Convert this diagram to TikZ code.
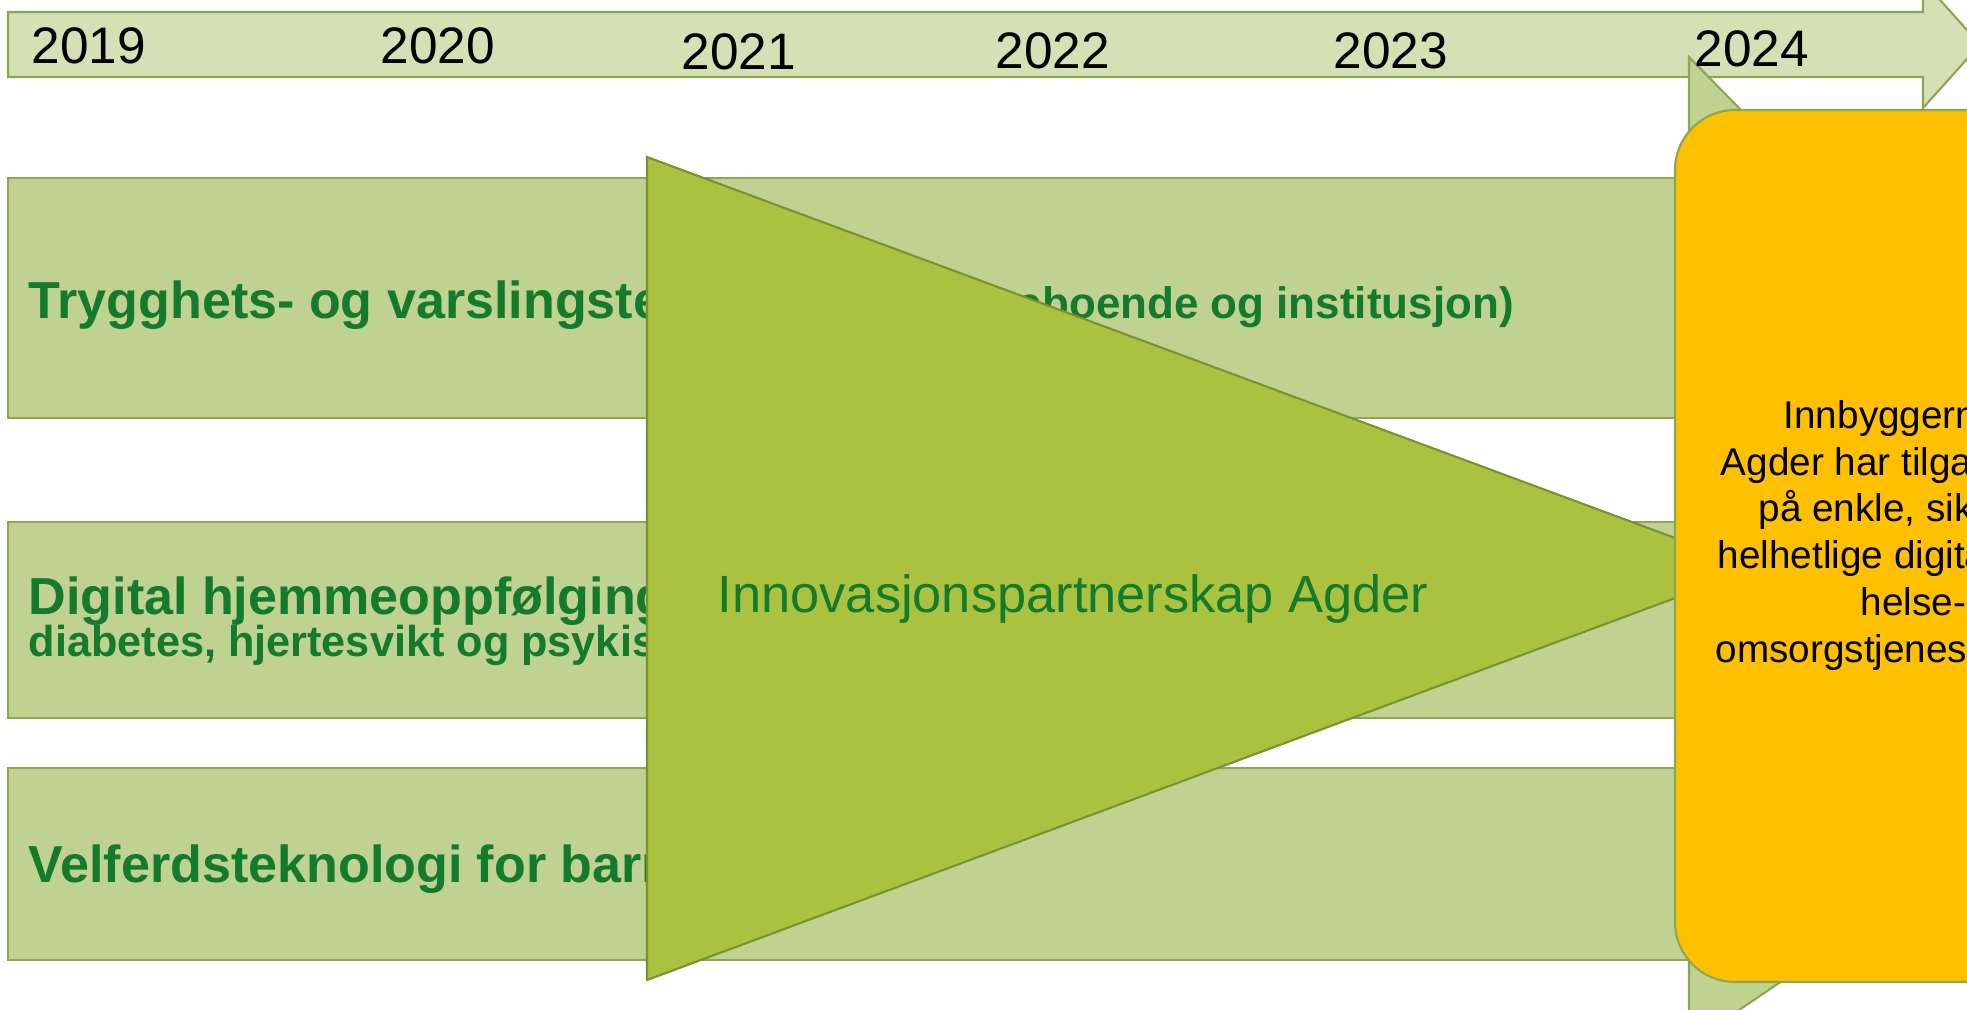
\documentclass[tikz,border=0pt]{standalone}
\usepackage{fontspec}
\setmainfont{Liberation Sans}
\definecolor{barfill}{RGB}{213,224,181}
\definecolor{rowfill}{RGB}{191,210,145}
\definecolor{rowline}{RGB}{140,166,82}
\definecolor{trifill}{RGB}{170,194,64}
\definecolor{triline}{RGB}{122,146,48}
\definecolor{goalfill}{RGB}{255,192,0}
\definecolor{txtgreen}{RGB}{20,122,44}

\begin{document}
\begin{tikzpicture}[x=0.01cm,y=-0.01cm,
    rowbox/.style={draw=rowline,fill=rowfill,line width=0.6pt},
    rowtext/.style={anchor=base west,inner sep=0,text=txtgreen,
      font=\bfseries\fontsize{14.8}{17.8}\selectfont},
    yeartext/.style={anchor=base west,inner sep=0,
      font=\fontsize{14.6}{17.5}\selectfont},
    goaltext/.style={anchor=base west,inner sep=0,
      font=\fontsize{11}{13.3}\selectfont}]
  \useasboundingbox (0,0) rectangle (1967,1009);
  \clip (0,0) rectangle (1967,1009);
  % time axis
  \draw[draw=rowline,fill=barfill,line width=0.6pt] (8,12) -- (1923,12) -- (1923,-19)
    -- (1980,44.5) -- (1923,108) -- (1923,77) -- (8,77) -- cycle;
  % arrow behind the goal box
  \draw[rowbox] (1689,57) -- (2270,650) -- (1689,1044) -- cycle;
  \foreach \yr/\xx/\yy in {2019/31/64,2020/380/64,2021/681/69,2022/995/68,2023/1333/68,2024/1694/67}
    \node[yeartext] (y\yr) at (\xx,\yy) {\yr};
  % focus areas
  \draw[rowbox] (8,178) rectangle (1800,418);
  \draw[rowbox] (8,522) rectangle (1800,718);
  \draw[rowbox] (8,768) rectangle (1800,960);
  \node[rowtext] (trygg) at (28,318) {Trygghets- og varslingsteknologi
    {\fontsize{12.5}{15}\selectfont (hjemmeboende og institusjon)}};
  \node[rowtext] (hjem) at (28,614) {Digital hjemmeoppfølging};
  \node[rowtext,font=\bfseries\fontsize{12.3}{14.8}\selectfont] (hjemsub) at (28,656)
    {diabetes, hjertesvikt og psykisk helse};
  \node[rowtext] (velferd) at (28,882) {Velferdsteknologi for barn};
  % partnership
  \draw[draw=triline,fill=trifill,line width=0.6pt] (647,157) -- (1756,568) -- (647,980) -- cycle;
  \node[anchor=base west,inner sep=0,text=txtgreen,font=\fontsize{14.9}{17.9}\selectfont]
    (ipa) at (717,612) {Innovasjonspartnerskap Agder};
  % goal
  \draw[draw=rowline,fill=goalfill,line width=0.6pt,rounded corners=0.6cm]
    (1675,110) rectangle (2125,982);
  \foreach \n/\xx/\yy/\txt in {1/1783/428/Innbyggerne i,2/1720/475/Agder har tilgang,
      3/1758/521/{på enkle, sikre og},4/1717/568/helhetlige digitale,
      5/1860/615/helse- og,6/1715/662/omsorgstjenester}
    \node[goaltext] (goal\n) at (\xx,\yy) {\txt};
\end{tikzpicture}
\end{document}
